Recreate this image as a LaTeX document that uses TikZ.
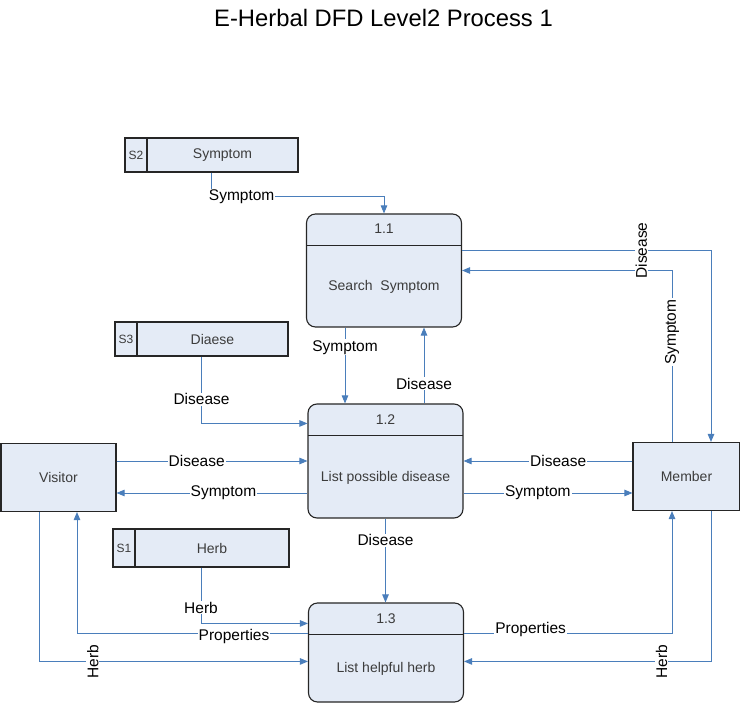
\documentclass[tikz,border=0pt]{standalone}
\usepackage{fontspec}
\setmainfont{Liberation Sans}
\usetikzlibrary{positioning,arrows.meta}

\definecolor{boxfill}{RGB}{228,235,246}
\definecolor{flowblue}{RGB}{74,126,187}
\definecolor{boxtext}{RGB}{60,60,60}

\tikzset{
  proc/.style={draw=black!85, line width=1.1pt, fill=boxfill, rounded corners=9pt,
    minimum width=155pt, minimum height=#1, inner sep=0pt,
    path picture={\draw[black!85, line width=1.1pt]
      ([yshift=-31.5pt]path picture bounding box.north west) --
      ([yshift=-31.5pt]path picture bounding box.north east);}},
  ptext/.style={font=\fontsize{14}{16}\selectfont, text=boxtext, inner sep=1pt},
  store/.style={draw=black!85, line width=1.1pt, fill=boxfill, minimum height=34pt,
    minimum width=#1, inner sep=0pt, font=\fontsize{14}{16}\selectfont, text=boxtext},
  storeid/.style={draw=black!85, line width=1.1pt, fill=boxfill, minimum height=34pt,
    minimum width=22pt, inner sep=0pt, font=\fontsize{12}{14}\selectfont, text=boxtext},
  ent/.style={draw=black!85, line width=1.1pt, fill=boxfill, minimum height=68pt,
    minimum width=#1, inner sep=0pt, font=\fontsize{14}{16}\selectfont, text=boxtext},
  flow/.style={draw=flowblue, line width=0.9pt, -{Triangle[length=8pt,width=6.5pt]}},
  lbl/.style={fill=white, inner sep=1pt, font=\fontsize{15.5}{17}\selectfont, text=black},
  vlbl/.style={lbl, rotate=90}
}

\begin{document}
\begin{tikzpicture}[x=1pt, y=-1pt]
  \useasboundingbox (0,0) rectangle (740,703);

  \node[font=\fontsize{23.8}{26}\selectfont] (title) at (383.5,18) {E-Herbal DFD Level2 Process 1};

  % processes
  \node[proc=113pt] (p11) at (384,270.5) {};
  \node[ptext] (p11num) at ([yshift=-15.5pt]p11.north) {1.1};
  \node[ptext] (p11name) at ([yshift=-16.5pt]p11.center) {Search\ \ Symptom};

  \node[proc=114pt] (p12) at (385.5,461) {};
  \node[ptext] (p12num) at ([yshift=-16pt]p12.north) {1.2};
  \node[ptext] (p12name) at ([yshift=-17pt]p12.center) {List possible disease};

  \node[proc=99pt] (p13) at (386,652.5) {};
  \node[ptext] (p13num) at ([yshift=-16pt]p13.north) {1.3};
  \node[ptext] (p13name) at ([yshift=-16.5pt]p13.center) {List helpful herb};

  % data stores
  \node[store=151pt] (s2) at (222.5,155) {Symptom};
  \node[storeid, left=-1.1pt of s2] (s2id) {S2};
  \node[store=151pt] (s3) at (212.5,339) {Diaese};
  \node[storeid, left=-1.1pt of s3] (s3id) {S3};
  \node[store=154pt, minimum height=38pt] (s1) at (212,548) {Herb};
  \node[storeid, minimum height=38pt, left=-1.1pt of s1] (s1id) {S1};

  % external entities
  \node[ent=115pt] (vis) at (58.5,477.5) {Visitor};
  \node[ent=107pt] (mem) at (686.5,476.5) {Member};

  % flows
  \draw[flow] ([xshift=-11pt]s2.south) -- ++(0,24)
    node[lbl, anchor=west, xshift=-4pt] {Symptom} -| (p11.north);
  \draw[flow] ([xshift=-39pt]p11.south) -- ([xshift=-39pt]p11.south |- p12.north)
    node[lbl, pos=0.26] {Symptom};
  \draw[flow] ([xshift=38.5pt]p12.north) -- ([xshift=38.5pt]p12.north |- p11.south)
    node[lbl, pos=0.26] {Disease};
  \draw[flow] ([xshift=-11pt]s3.south) |- ([yshift=-20pt]p12.north west)
    node[lbl, pos=0.32] {Disease};

  \draw[flow] (vis.east |- p12.west) -- (p12.west) node[lbl, pos=0.42] {Disease};
  \draw[flow] ([yshift=-32pt]p12.west) -- ([yshift=-32pt]p12.west -| vis.east)
    node[lbl, pos=0.44] {Symptom};
  \draw[flow] (mem.west |- p12.east) -- (p12.east) node[lbl, pos=0.44] {Disease};
  \draw[flow] ([yshift=-32pt]p12.east) -- ([yshift=-32pt]p12.east -| mem.west)
    node[lbl, pos=0.44] {Symptom};

  \draw[flow] ([xshift=-14.5pt]mem.north) |- (p11.east) node[vlbl, pos=0.32] {Symptom};
  \draw[flow] ([yshift=-37pt]p11.north east) -| ([xshift=24.5pt]mem.north)
    node[vlbl, pos=0.36] {Disease};

  \draw[flow] (p12.south) -- (p12.south |- p13.north) node[lbl, pos=0.26] {Disease};
  \draw[flow] ([xshift=-11pt]s1.south) |- ([yshift=-21pt]p13.north west)
    node[lbl, pos=0.36] {Herb};

  \draw[flow] ([yshift=-31pt]p13.north west) -| ([xshift=18.5pt]vis.south)
    node[lbl, pos=0.16, yshift=-3pt] {Properties};
  \draw[flow] ([xshift=-19.5pt]vis.south) |- ([yshift=-59pt]p13.north west)
    node[vlbl, pos=0.6] {Herb};
  \draw[flow] ([yshift=-31pt]p13.north east) -| ([xshift=-14.5pt]mem.south)
    node[lbl, pos=0.16, yshift=4pt] {Properties};
  \draw[flow] ([xshift=24.5pt]mem.south) |- ([yshift=-59pt]p13.north east)
    node[vlbl, pos=0.6] {Herb};
\end{tikzpicture}
\end{document}
